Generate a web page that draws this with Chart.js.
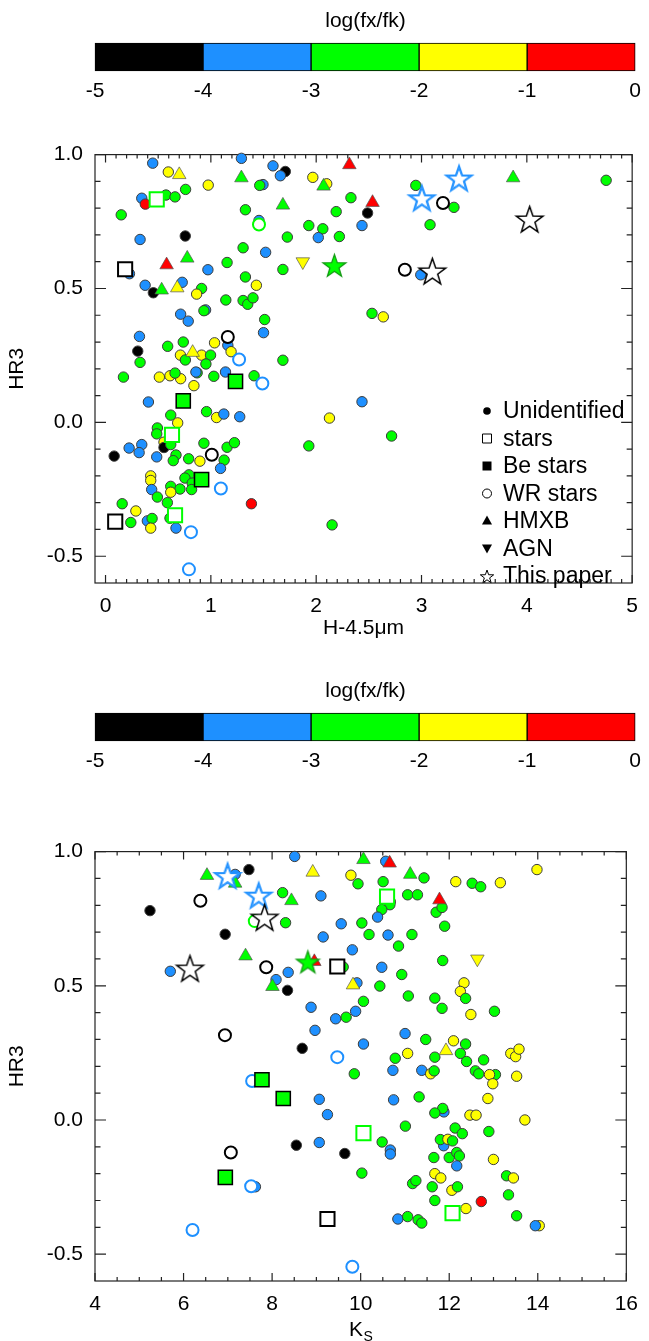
<!DOCTYPE html>
<html>
<head>
<meta charset="utf-8">
<title>HR3 vs H-4.5um and Ks</title>
<script src="https://cdn.jsdelivr.net/npm/chart.js@4.4.1/dist/chart.umd.min.js"></script>
<style>
  html, body { margin: 0; padding: 0; background: #fff; }
  #page { position: relative; width: 649px; height: 1341px; overflow: hidden; background: #fff; }
  canvas { position: absolute; left: 0; }
</style>
</head>
<body>
<div id="page">
  <canvas id="bar1" width="649" height="110" style="top:0px"></canvas>
  <canvas id="plot1" width="649" height="520" style="top:130px"></canvas>
  <canvas id="bar2" width="649" height="110" style="top:670px"></canvas>
  <canvas id="plot2" width="649" height="514" style="top:827px"></canvas>
</div>
<script>
// log(fx/fk) classes: each point carries the lower edge of its class
var K = -5, B = -4, G = -3, Y = -2, R = -1;
var cbEdges = [-5, -4, -3, -2, -1, 0];
var cbColors = ['#000000', '#1e90ff', '#00ff00', '#ffff00', '#ff0000'];

var hxTicks = [0, 1, 2, 3, 4, 5];
var ksTicks = [4, 6, 8, 10, 12, 14, 16];
var hrTicks = [-0.5, 0.0, 0.5, 1.0];
var legendNames = ['Unidentified', 'stars', 'Be stars', 'WR stars', 'HMXB', 'AGN', 'This paper'];

// ---- HR3 vs H-4.5um ----
var hxUnident = [
  [0.448,0.968,B],[0.596,0.935,Y],[1.29,0.986,B],[0.975,0.886,Y],[0.76,0.870,G],
  [0.344,0.837,B],[0.378,0.815,R],[0.574,0.849,G],[0.66,0.842,G],[0.149,0.775,G],
  [1.59,0.958,B],[1.707,0.937,K],[1.66,0.921,B],[1.495,0.888,B],[1.464,0.885,G],
  [1.968,0.915,Y],[2.10,0.891,Y],[2.33,0.839,G],[1.328,0.794,G],[1.457,0.754,B],
  [2.19,0.787,G],[1.93,0.735,G],[2.063,0.723,G],[2.02,0.690,B],[2.22,0.694,G],
  [2.435,0.735,B],[2.488,0.782,K],[0.757,0.696,K],[0.328,0.683,B],[1.726,0.692,G],
  [1.306,0.652,G],[1.52,0.635,B],[0.227,0.555,B],[1.154,0.597,G],[0.972,0.570,B],
  [1.684,0.571,G],[1.328,0.543,G],[1.432,0.512,Y],[0.376,0.512,B],[0.454,0.484,K],
  [0.728,0.523,B],[0.912,0.500,G],[0.865,0.479,Y],[1.142,0.457,G],[1.306,0.455,G],
  [1.350,0.441,G],[1.400,0.465,G],[1.511,0.384,G],[1.500,0.335,B],[0.950,0.420,B],
  [0.934,0.417,G],[0.713,0.404,B],[0.785,0.378,B],[0.322,0.321,B],[0.306,0.266,K],
  [0.328,0.224,G],[0.590,0.284,G],[0.738,0.300,G],[0.711,0.251,Y],[0.912,0.251,Y],
  [0.758,0.233,G],[0.997,0.251,G],[0.953,0.218,G],[1.035,0.297,Y],[1.161,0.288,B],
  [1.192,0.264,Y],[1.684,0.232,G],
  [2.946,0.885,G],[3.308,0.803,G],[3.081,0.738,G],[4.753,0.904,G],[2.993,0.551,B],
  [2.530,0.407,G],[2.637,0.394,Y],
  [0.170,0.169,G],[0.511,0.169,Y],[0.612,0.174,Y],[0.713,0.163,Y],[0.660,0.184,G],
  [0.870,0.185,G],[0.858,0.188,B],[1.028,0.172,G],[1.139,0.188,B],[1.410,0.174,G],
  [0.839,0.137,Y],[0.407,0.076,B],[0.959,0.040,G],[1.054,0.018,Y],[1.123,0.031,B],
  [1.274,0.021,B],[2.435,0.077,B],[2.126,0.016,Y],[0.619,0.027,G],[0.685,-0.002,Y],
  [0.492,-0.021,G],[0.486,-0.043,G],[0.555,-0.074,Y],[0.555,-0.094,K],[0.619,-0.083,G],
  [0.224,-0.096,B],[0.344,-0.083,B],[0.319,-0.113,B],[0.486,-0.129,B],[0.082,-0.126,K],
  [0.669,-0.122,G],[0.643,-0.143,G],[0.789,-0.136,G],[0.896,-0.145,Y],[0.934,-0.078,G],
  [1.154,-0.093,G],[1.224,-0.076,G],[1.126,-0.141,G],[1.092,-0.172,B],[1.930,-0.088,G],
  [2.716,-0.051,G],[0.429,-0.200,Y],[0.429,-0.217,Y],[0.438,-0.251,B],[0.492,-0.279,G],
  [0.792,-0.196,G],[0.754,-0.208,G],[0.823,-0.227,G],[0.817,-0.251,G],[0.619,-0.239,G],
  [0.707,-0.249,G],[0.619,-0.261,Y],[0.587,-0.300,G],[1.385,-0.304,R],[0.158,-0.304,G],
  [0.288,-0.331,Y],[0.240,-0.374,G],[0.397,-0.368,B],[0.442,-0.359,G],[0.429,-0.395,Y],
  [0.612,-0.358,G],[0.669,-0.395,B],[2.151,-0.383,G]
];
var hxStars = [[0.486,0.833,G],[0.186,0.572,K],[0.631,-0.047,G],[0.092,-0.371,K],[0.660,-0.347,G]];
var hxBe = [[1.234,0.153,G],[0.738,0.080,G],[0.912,-0.214,G]];
var hxWR = [
  [1.457,0.739,G],[1.161,0.319,K],[1.268,0.235,B],[1.489,0.145,B],[1.009,-0.121,K],
  [1.095,-0.247,B],[0.811,-0.410,B],[0.792,-0.549,B],[3.204,0.819,K],[2.842,0.570,K]
];
var hxHMXB = [
  [0.70,0.925,Y],[1.29,0.913,G],[2.315,0.962,R],[2.07,0.882,G],[1.684,0.811,G],
  [2.535,0.821,R],[0.58,0.588,R],[0.776,0.613,G],[0.533,0.494,G],[0.681,0.502,Y],
  [0.827,0.261,Y],[3.87,0.913,G]
];
var hxAGN = [[1.873,0.600,Y]];
var hxPaper = [[2.173,0.582,G],[3.003,0.833,B],[3.356,0.907,B],[3.103,0.560,K],[4.027,0.754,K]];

// ---- HR3 vs Ks ----
var ksUnident = [
  [7.165,0.915,B],[7.476,0.933,K],[8.51,0.982,B],[9.78,0.912,Y],[9.94,0.88,G],
  [5.242,0.78,K],[8.237,0.847,G],[9.102,0.835,B],[8.304,0.735,G],[9.561,0.731,B],
  [10.027,0.734,G],[6.94,0.692,K],[9.153,0.682,B],[9.812,0.634,B],[5.701,0.554,B],
  [8.363,0.55,B],[8.089,0.523,B],[8.348,0.483,K],[9.605,0.57,G],[8.88,0.42,B],
  [9.435,0.377,B],[9.886,0.405,B],[9.672,0.383,G],[8.969,0.334,B],[8.68,0.267,K],
  [10.566,0.964,B],[10.507,0.888,G],[11.431,0.902,G],[10.67,0.813,R],[10.66,0.802,G],
  [10.477,0.784,G],[11.061,0.839,G],[11.283,0.839,G],[11.705,0.774,G],[11.838,0.792,G],
  [11.897,0.722,G],[12.148,0.888,Y],[13.155,0.884,Y],[12.518,0.882,G],[12.711,0.869,G],
  [13.982,0.933,Y],[10.382,0.756,B],[10.189,0.691,G],[10.618,0.689,B],[11.158,0.691,G],
  [10.855,0.648,G],[11.853,0.594,G],[10.477,0.569,B],[10.928,0.542,G],[9.916,0.511,B],
  [10.433,0.499,G],[10.063,0.442,G],[11.076,0.462,G],[11.675,0.454,G],[11.838,0.416,G],
  [12.334,0.511,Y],[12.252,0.479,Y],[12.489,0.393,Y],[12.37,0.453,G],[13.022,0.405,G],
  [11.003,0.322,B],[10.063,0.283,B],[11.469,0.30,G],[12.097,0.295,Y],[12.37,0.283,G],
  [11.061,0.248,Y],[10.781,0.23,G],[11.675,0.234,G],[12.252,0.248,G],[12.392,0.218,G],
  [12.777,0.224,G],[13.39,0.248,Y],[13.50,0.236,Y],[13.576,0.264,Y],
  [9.856,0.172,G],[10.728,0.185,B],[11.38,0.185,B],[11.58,0.172,Y],[11.66,0.183,G],
  [12.59,0.183,G],[12.667,0.172,G],[13.044,0.169,G],[12.91,0.169,Y],[12.984,0.135,Y],
  [13.523,0.163,Y],[10.744,0.075,B],[11.32,0.086,G],[12.873,0.08,Y],[11.88,0.03,B],
  [11.853,0.043,G],[11.675,0.026,G],[12.467,0.018,Y],[12.607,0.018,Y],[13.709,0.0,Y],
  [11.01,-0.023,G],[10.485,-0.082,G],[10.67,-0.112,B],[10.67,-0.127,B],[12.134,-0.03,G],
  [12.296,-0.051,G],[12.895,-0.043,G],[11.875,-0.096,B],[11.80,-0.073,G],[11.97,-0.072,Y],
  [12.075,-0.078,G],[11.653,-0.14,G],[12.0,-0.14,G],[12.17,-0.121,G],[12.23,-0.134,G],
  [12.17,-0.171,B],[12.999,-0.147,Y],[10.027,-0.198,G],[11.675,-0.20,Y],[11.81,-0.216,Y],
  [13.295,-0.208,G],[13.45,-0.216,Y],[11.173,-0.237,G],[11.247,-0.226,G],[11.616,-0.249,G],
  [12.06,-0.262,Y],[12.186,-0.249,G],[13.339,-0.279,G],[11.675,-0.30,G],[12.725,-0.304,R],
  [12.378,-0.33,Y],[13.523,-0.357,G],[10.84,-0.369,B],[11.061,-0.36,G],[11.298,-0.372,G],
  [11.38,-0.384,G],[14.034,-0.394,Y],[13.945,-0.394,B],
  [7.623,-0.249,B],[9.065,0.077,B],[9.25,0.02,B],[9.065,-0.084,B],[8.547,-0.094,K],
  [9.642,-0.125,K]
];
var ksStars = [[10.596,0.832,G],[9.472,0.572,K],[10.063,-0.049,G],[9.25,-0.369,K],[12.075,-0.347,G]];
var ksBe = [[7.771,0.150,G],[8.252,0.080,G],[6.943,-0.214,G]];
var ksWR = [
  [6.38,0.817,K],[7.609,0.741,G],[7.867,0.569,K],[6.935,0.316,K],[9.472,0.234,B],
  [7.549,0.145,B],[7.068,-0.121,K],[7.527,-0.247,B],[6.203,-0.410,B],[9.812,-0.547,B]
];
var ksHMXB = [
  [6.529,0.911,G],[7.165,0.882,G],[8.918,0.923,Y],[10.063,0.970,G],[10.655,0.957,R],
  [11.12,0.915,G],[8.437,0.817,G],[11.78,0.820,R],[7.40,0.611,G],[8.008,0.497,G],
  [8.954,0.590,R],[9.827,0.503,Y],[11.927,0.258,Y]
];
var ksAGN = [[12.636,0.600,Y]];
var ksPaper = [[8.807,0.585,G],[6.995,0.905,B],[7.698,0.832,B],[6.145,0.560,K],[7.83,0.750,K]];

var FONT = '"Liberation Sans", Arial, Helvetica, sans-serif';
var FS = 21;
Chart.defaults.font.family = FONT;
Chart.defaults.color = '#000';

function colorFor(bin) {
  var i = cbEdges.indexOf(bin);
  return i < 0 ? '#000' : cbColors[i];
}
function pts(arr) {
  return arr.map(function(p) { return { x: p[0], y: p[1], bin: p[2] }; });
}
function fillOf(ctx) { return ctx.raw ? colorFor(ctx.raw.bin) : '#000'; }

function starPath(g, Ro) {
  g.beginPath();
  for (var i = 0; i < 10; i++) {
    var r = i % 2 ? Ro * 0.4 : Ro;
    var a = -Math.PI / 2 + i * Math.PI / 5;
    g.lineTo(r * Math.cos(a), r * Math.sin(a));
  }
  g.closePath();
}
function starCanvas(fill, stroke, Ro, lw, inner) {
  var c = document.createElement('canvas');
  var s = Math.ceil(2 * Ro + 2 * lw + 4);
  c.width = s; c.height = s;
  var g = c.getContext('2d');
  g.translate(s / 2, s / 2);
  starPath(g, Ro);
  g.fillStyle = fill; g.fill();
  g.lineWidth = lw; g.strokeStyle = stroke; g.stroke();
  if (inner) {
    starPath(g, Ro * 0.78);
    g.lineWidth = 1; g.stroke();
  }
  return c;
}
var starImgs = {};
starImgs[G] = starCanvas('#00ff00', '#139a13', 12, 1.3, false);
starImgs[B] = starCanvas('#ffffff', '#1e90ff', 14, 1.6, true);
starImgs[K] = starCanvas('#ffffff', '#000000', 14, 1.5, false);

function scatterSets(src) {
  return [
    { label: 'This paper', data: pts(src.paper), pointRadius: 13,
      pointStyle: function(ctx) { return ctx.raw ? starImgs[ctx.raw.bin] : 'star'; } },
    { label: 'AGN', data: pts(src.agn), pointStyle: 'triangle', pointRotation: 180, pointRadius: 7.8,
      pointBackgroundColor: fillOf, pointBorderColor: '#555', pointBorderWidth: 0.7 },
    { label: 'HMXB', data: pts(src.hmxb), pointStyle: 'triangle', pointRadius: 7.8,
      pointBackgroundColor: fillOf, pointBorderColor: '#555', pointBorderWidth: 0.7 },
    { label: 'Be stars', data: pts(src.be), pointStyle: 'rect', pointRadius: 10,
      pointBackgroundColor: fillOf, pointBorderColor: '#000', pointBorderWidth: 1.5 },
    { label: 'stars', data: pts(src.stars), pointStyle: 'rect', pointRadius: 10,
      pointBackgroundColor: '#fff', pointBorderColor: fillOf, pointBorderWidth: 2 },
    { label: 'WR stars', data: pts(src.wr), pointStyle: 'circle', pointRadius: 6,
      pointBackgroundColor: '#fff', pointBorderColor: fillOf, pointBorderWidth: 2 },
    { label: 'Unidentified', data: pts(src.unident), pointStyle: 'circle', pointRadius: 5.2,
      pointBackgroundColor: fillOf, pointBorderColor: '#3c3c3c', pointBorderWidth: 1 }
  ].map(function(d) { d.clip = false; d.showLine = false; return d; });
}

// box with inward IDL-style ticks on all four sides
var frame = {
  id: 'frame',
  beforeDatasetsDraw: function(chart, args, o) {
    var ctx = chart.ctx, a = chart.chartArea, xs = chart.scales.x, ys = chart.scales.y;
    ctx.save();
    ctx.strokeStyle = '#222';
    ctx.lineWidth = 1.2;
    ctx.strokeRect(a.left, a.top, a.right - a.left, a.bottom - a.top);
    ctx.beginPath();
    function xMark(v, len) {
      var p = xs.getPixelForValue(v);
      ctx.moveTo(p, a.bottom); ctx.lineTo(p, a.bottom - len);
      ctx.moveTo(p, a.top); ctx.lineTo(p, a.top + len);
    }
    function yMark(v, len) {
      var p = ys.getPixelForValue(v);
      ctx.moveTo(a.left, p); ctx.lineTo(a.left + len, p);
      ctx.moveTo(a.right, p); ctx.lineTo(a.right - len, p);
    }
    var n = Math.round((xs.max - xs.min) / o.xStep);
    for (var i = 1; i < n; i++) xMark(xs.min + i * o.xStep, 4);
    o.xMajor.forEach(function(v) { xMark(v, 8); });
    n = Math.round((ys.max - ys.min) / o.yStep);
    for (var j = 1; j < n; j++) yMark(ys.min + j * o.yStep, 5.5);
    o.yMajor.forEach(function(v) { yMark(v, 11); });
    ctx.stroke();
    ctx.restore();
  }
};

var legendKey = {
  id: 'legendKey',
  afterDatasetsDraw: function(chart) {
    var ctx = chart.ctx;
    ctx.save();
    ctx.font = '23px ' + FONT;
    ctx.strokeStyle = '#000';
    ctx.textBaseline = 'alphabetic';
    legendNames.forEach(function(name, i) {
      var cy = 280 + 27.5 * i, sx = 487, sy = cy + 1;
      ctx.fillStyle = '#000';
      ctx.fillText(name, 503, cy + 8);
      ctx.lineWidth = 1;
      ctx.beginPath();
      if (i === 0) { ctx.arc(sx, sy, 3.8, 0, 2 * Math.PI); ctx.fill(); }
      else if (i === 1) { ctx.fillStyle = '#fff'; ctx.rect(sx - 4.5, sy - 4.5, 9, 9); ctx.fill(); ctx.stroke(); }
      else if (i === 2) { ctx.rect(sx - 4.5, sy - 4.5, 9, 9); ctx.fill(); }
      else if (i === 3) { ctx.fillStyle = '#fff'; ctx.arc(sx, sy, 4.5, 0, 2 * Math.PI); ctx.fill(); ctx.stroke(); }
      else if (i === 4) { ctx.moveTo(sx, sy - 5.5); ctx.lineTo(sx + 5, sy + 3.5); ctx.lineTo(sx - 5, sy + 3.5); ctx.closePath(); ctx.fill(); }
      else if (i === 5) { ctx.moveTo(sx, sy + 5); ctx.lineTo(sx + 5, sy - 4); ctx.lineTo(sx - 5, sy - 4); ctx.closePath(); ctx.fill(); }
      else {
        ctx.save(); ctx.translate(sx, sy + 1); starPath(ctx, 7); ctx.restore();
        ctx.fillStyle = '#fff'; ctx.fill(); ctx.stroke();
      }
    });
    ctx.restore();
  }
};

var ksTitle = {
  id: 'ksTitle',
  afterDraw: function(chart) {
    var ctx = chart.ctx, a = chart.chartArea;
    var cx = (a.left + a.right) / 2, cy = 501;
    ctx.save();
    ctx.fillStyle = '#000';
    ctx.textBaseline = 'alphabetic';
    ctx.font = FS + 'px ' + FONT;
    var wK = ctx.measureText('K').width;
    ctx.font = '14px ' + FONT;
    var wS = ctx.measureText('S').width;
    var x0 = cx - (wK + wS) / 2;
    ctx.font = FS + 'px ' + FONT;
    ctx.fillText('K', x0, cy + 7.5);
    ctx.font = '14px ' + FONT;
    ctx.fillText('S', x0 + wK + 0.5, cy + 13);
    ctx.restore();
  }
};

function colorBar(id) {
  new Chart(document.getElementById(id), {
    type: 'bar',
    data: {
      labels: [''],
      datasets: cbColors.map(function(c, i) {
        return { data: [[cbEdges[i], cbEdges[i + 1]]], backgroundColor: c, borderColor: '#000',
                 borderWidth: 1, borderSkipped: false, grouped: false,
                 barPercentage: 1, categoryPercentage: 1, clip: 3 };
      })
    },
    options: {
      indexAxis: 'y', responsive: false, animation: false, events: [],
      layout: { padding: { left: 95, right: 13, top: 0, bottom: 0 } },
      plugins: {
        legend: { display: false }, tooltip: { enabled: false },
        title: { display: true, text: 'log(fx/fk)', color: '#000',
                 font: { size: FS, weight: 'normal' }, padding: { top: 9, bottom: 9 } }
      },
      scales: {
        x: { type: 'linear', min: -5, max: 0,
             ticks: { stepSize: 1, font: { size: FS }, color: '#000', padding: 8, maxRotation: 0 },
             grid: { display: false, drawTicks: false }, border: { display: false },
             afterFit: function(s) { s.height = 39; } },
        y: { display: false }
      }
    }
  });
}

function hrPlot(id, src, xr, xMajor, xStep, xTitle, xHeight, rightPad, extra) {
  new Chart(document.getElementById(id), {
    type: 'scatter',
    data: { datasets: scatterSets(src) },
    options: {
      responsive: false, animation: false, events: [],
      layout: { padding: { left: 0, right: rightPad, top: 18, bottom: 0 } },
      plugins: {
        legend: { display: false }, tooltip: { enabled: false },
        frame: { xMajor: xMajor, xStep: xStep, yMajor: hrTicks, yStep: 0.1 }
      },
      scales: {
        x: { type: 'linear', min: xr[0], max: xr[1],
             afterBuildTicks: function(s) { s.ticks = xMajor.map(function(v) { return { value: v }; }); },
             ticks: { font: { size: FS }, color: '#000', padding: 11, maxRotation: 0, autoSkip: false,
                      callback: function(v) { return String(v); } },
             grid: { display: false, drawTicks: false }, border: { display: false },
             title: { display: !!xTitle, text: xTitle || '', color: '#000',
                      font: { size: FS }, padding: { top: 0, bottom: 9 } },
             afterFit: function(s) { s.height = xHeight; } },
        y: { type: 'linear', min: -0.6, max: 1.0,
             afterBuildTicks: function(s) { s.ticks = hrTicks.map(function(v) { return { value: v }; }); },
             ticks: { font: { size: FS }, color: '#000', padding: 12, autoSkip: false,
                      callback: function(v) { return Number(v).toFixed(1); } },
             grid: { display: false, drawTicks: false }, border: { display: false },
             title: { display: true, text: 'HR3', color: '#000', font: { size: FS },
                      padding: { top: 5, bottom: 0 } },
             afterFit: function(s) { s.width = 95; } }
      }
    },
    plugins: [frame].concat(extra)
  });
}

colorBar('bar1');
colorBar('bar2');
hrPlot('plot1',
  { unident: hxUnident, stars: hxStars, be: hxBe, wr: hxWR, hmxb: hxHMXB, agn: hxAGN, paper: hxPaper },
  [-0.1, 5], hxTicks, 0.1, 'H-4.5\u03bcm', 67, 15, [legendKey]);
hrPlot('plot2',
  { unident: ksUnident, stars: ksStars, be: ksBe, wr: ksWR, hmxb: ksHMXB, agn: ksAGN, paper: ksPaper },
  [4, 16], ksTicks, 0.5, '', 60, 13, [ksTitle]);
</script>
</body>
</html>
